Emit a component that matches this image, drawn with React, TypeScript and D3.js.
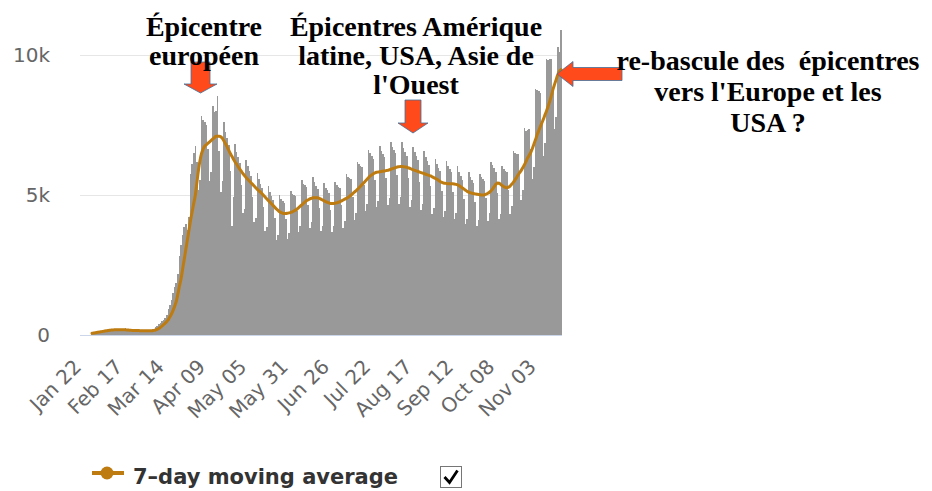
import React from 'react';
import * as d3 from 'd3';

// Daily deaths (bars), Jan 22 -> Nov 12
const dailyDeaths: number[] = [
  50, 60, 75, 85, 95, 110, 125,
  125, 145, 150, 165, 160, 180, 175,
  190, 185, 200, 180, 195, 185, 200,
  250, 150, 170, 160, 175, 150, 155,
  150, 170, 140, 160, 130, 150, 145,
  145, 150, 160, 200, 230, 270, 320,
  390, 440, 495, 535, 600, 700, 925,
  1080, 1260, 1495, 1700, 1840, 2185, 2835,
  3200, 3570, 3860, 3980, 3740, 4230, 5750,
  6100, 6490, 6750, 6175, 5190, 5535, 7820,
  7670, 7590, 7505, 6650, 5500, 5820, 8165,
  7950, 8000, 8550, 6580, 5100, 5510, 7590,
  7260, 7020, 6780, 5870, 3900, 4920, 6810,
  6540, 6340, 6145, 5340, 4340, 4510, 6255,
  6025, 5850, 5680, 4940, 4020, 4180, 5800,
  5580, 5410, 5250, 4560, 3700, 3840, 5310,
  5110, 4950, 4810, 4180, 3410, 3570, 4990,
  4860, 4785, 4710, 4160, 3430, 3630, 5130,
  5040, 5005, 4970, 4420, 3670, 3900, 5520,
  5410, 5350, 5270, 4655, 3820, 4020, 5635,
  5465, 5335, 5205, 4550, 3710, 3890, 5430,
  5265, 5170, 5075, 4475, 3680, 3885, 5475,
  5365, 5300, 5240, 4635, 3830, 4060, 5750,
  5655, 5610, 5560, 4940, 4100, 4360, 6190,
  6090, 6050, 6005, 5340, 4430, 4690, 6625,
  6485, 6390, 6285, 5540, 4555, 4800, 6740,
  6575, 6470, 6370, 5625, 4635, 4885, 6880,
  6720, 6610, 6500, 5720, 4690, 4920, 6890,
  6685, 6545, 6395, 5605, 4585, 4805, 6715,
  6520, 6380, 6240, 5470, 4475, 4690, 6555,
  6360, 6215, 6070, 5310, 4335, 4525, 6300,
  6105, 5975, 5855, 5140, 4210, 4430, 6210,
  6050, 5930, 5810, 5090, 4160, 4340, 6040,
  5835, 5690, 5540, 4845, 3960, 4150, 5810,
  5645, 5535, 5420, 4760, 3900, 4100, 5760,
  5635, 5565, 5510, 4890, 4070, 4345, 6185,
  6080, 5960, 5810, 5075, 4135, 4320, 6050,
  5915, 5850, 5810, 5180, 4315, 4610, 6580,
  6495, 6470, 6460, 5775, 4835, 5180, 7385,
  7300, 7325, 7365, 6630, 5575, 5985, 8800,
  8750, 8700, 8650, 7620, 6380, 6855, 9845,
  9835, 9855, 9860, 8835, 7350, 7775, 10300,
  10100, 10900,
];

// 7-day moving average (line)
const movingAverage: number[] = [
  60, 70, 80, 90, 100, 110, 120, 130, 140, 150,
  160, 170, 175, 180, 185, 190, 190, 190, 190, 190,
  190, 185, 180, 175, 170, 165, 160, 160, 160, 160,
  155, 150, 150, 150, 150, 150, 150, 150, 155, 165,
  180, 200, 230, 270, 320, 370, 420, 480, 550, 650,
  750, 880, 1030, 1200, 1450, 1750, 2000, 2350, 2700, 3050,
  3400, 3750, 4100, 4400, 4700, 5000, 5450, 5900, 6250, 6500,
  6650, 6750, 6800, 6850, 6900, 6950, 7000, 7050, 7100, 7100,
  7100, 7080, 7020, 6930, 6830, 6720, 6600, 6480, 6380, 6280,
  6180, 6100, 6000, 5920, 5840, 5760, 5690, 5620, 5560, 5500,
  5440, 5380, 5320, 5260, 5200, 5150, 5100, 5040, 4980, 4920,
  4860, 4800, 4740, 4680, 4620, 4560, 4500, 4450, 4400, 4370,
  4350, 4340, 4340, 4350, 4360, 4380, 4400, 4430, 4460, 4500,
  4550, 4600, 4650, 4700, 4750, 4800, 4830, 4860, 4880, 4900,
  4900, 4900, 4900, 4880, 4850, 4820, 4790, 4760, 4740, 4720,
  4700, 4700, 4700, 4710, 4720, 4740, 4760, 4790, 4820, 4850,
  4880, 4910, 4950, 5000, 5050, 5100, 5150, 5200, 5260, 5320,
  5380, 5440, 5500, 5560, 5620, 5680, 5720, 5760, 5790, 5810,
  5820, 5830, 5840, 5850, 5860, 5870, 5880, 5900, 5920, 5940,
  5960, 5980, 6000, 6010, 6020, 6020, 6010, 6000, 5990, 5970,
  5950, 5920, 5900, 5880, 5860, 5840, 5820, 5800, 5780, 5760,
  5740, 5720, 5700, 5680, 5650, 5620, 5590, 5560, 5520, 5480,
  5450, 5430, 5420, 5410, 5400, 5400, 5400, 5400, 5390, 5380,
  5360, 5330, 5290, 5250, 5210, 5170, 5130, 5100, 5080, 5060,
  5050, 5040, 5030, 5020, 5010, 5000, 5000, 5010, 5030, 5060,
  5100, 5150, 5220, 5300, 5380, 5430, 5420, 5380, 5340, 5300,
  5270, 5260, 5280, 5320, 5380, 5450,
  5530, 5620, 5720, 5800, 5880, 5980, 6080, 6200, 6320, 6420,
  6520, 6660, 6820, 6980, 7150, 7300, 7440, 7580, 7720, 7870,
  8020, 8180, 8360, 8560, 8780, 8960, 9130, 9300, 9420, 9480,
];

const tickIndex = [0, 26, 52, 78, 104, 130, 156, 182, 208, 234, 260, 286];
const tickLabels = ['Jan 22', 'Feb 17', 'Mar 14', 'Apr 09', 'May 05', 'May 31', 'Jun 26', 'Jul 22', 'Aug 17', 'Sep 12', 'Oct 08', 'Nov 03'];
const yTicks = [0, 5000, 10000];
const yTickLabels = ['0', '5k', '10k'];
const legendLabel = '7\u2013day moving average';

const annotation1 = ['\u00c9picentre', 'europ\u00e9en'];
const annotation2 = ['\u00c9picentres Am\u00e9rique', 'latine, USA, Asie de', "l'Ouest"];
const annotation3 = ['re-bascule des  \u00e9picentres', "vers l'Europe et les", 'USA ?'];

const W = 932;
const H = 491;
const plotLeft = 80;
const plotRight = 562;
const BAR = '#999999';
const LINE = '#be7b10';
const ARROW = '#ff4a1c';
const ARROW_STROKE = '#41719c';

export default function App() {
  const n = dailyDeaths.length;
  const x = d3.scaleLinear().domain([0, n - 1]).range([92, 561]);
  const y = d3.scaleLinear().domain([0, 10000]).range([335, 55]);
  const step = x(1) - x(0);

  const line = d3
    .line<number>()
    .x((_, i) => x(i))
    .y((d) => y(d))
    .curve(d3.curveMonotoneX);

  const axisFont = 'DejaVu Sans, sans-serif';
  const serif = 'Liberation Serif, Times New Roman, serif';

  const downArrow = (cx: number, top: number, shaftW: number, headW: number, headY: number, tipY: number) => {
    const pts = [
      [cx - shaftW / 2, top],
      [cx + shaftW / 2, top],
      [cx + shaftW / 2, headY],
      [cx + headW / 2, headY],
      [cx, tipY],
      [cx - headW / 2, headY],
      [cx - shaftW / 2, headY],
    ];
    return pts.map((p) => p.join(',')).join(' ');
  };
  const leftArrow = (tipX: number, cy: number, headX: number, headH: number, shaftH: number, endX: number) => {
    const pts = [
      [tipX, cy],
      [headX, cy - headH / 2],
      [headX, cy - shaftH / 2],
      [endX, cy - shaftH / 2],
      [endX, cy + shaftH / 2],
      [headX, cy + shaftH / 2],
      [headX, cy + headH / 2],
    ];
    return pts.map((p) => p.join(',')).join(' ');
  };

  return (
    <svg
      width={W}
      height={H}
      style={{ position: 'absolute', left: 0, top: 0, background: '#fff' }}
    >
      {/* grid */}
      {yTicks.map((t, i) =>
        t === 0 ? null : (
          <line key={'g' + i} x1={plotLeft} x2={plotRight} y1={Math.round(y(t)) + 0.5} y2={Math.round(y(t)) + 0.5} stroke="#e6e6e6" strokeWidth={1} />
        )
      )}
      {/* y labels */}
      {yTicks.map((t, i) => (
        <text key={'yl' + i} x={50} y={y(t) + 7} textAnchor="end" fontFamily={axisFont} fontSize={20} fill="#666">
          {yTickLabels[i]}
        </text>
      ))}
      {/* bars */}
      <g shapeRendering="crispEdges">
        {dailyDeaths.map((v, i) => {
          const x0 = Math.round(x(i) - step / 2);
          const x1 = Math.round(x(i) + step / 2);
          return <rect key={'b' + i} x={x0} width={Math.max(1, x1 - x0)} y={y(v)} height={y(0) - y(v)} fill={BAR} />;
        })}
      </g>
      {/* x axis line */}
      <line x1={plotLeft} x2={plotRight} y1={335.5} y2={335.5} stroke="#ccd6eb" strokeWidth={1} />
      {/* moving average */}
      <path d={line(movingAverage) || ''} fill="none" stroke={LINE} strokeWidth={3} strokeLinejoin="round" strokeLinecap="round" />
      {/* x labels */}
      {tickIndex.map((ti, i) => (
        <text
          key={'xl' + i}
          transform={`translate(${x(ti) - 9.5},368) rotate(-45)`}
          textAnchor="end"
          fontFamily={axisFont}
          fontSize={20}
          fill="#666"
        >
          {tickLabels[i]}
        </text>
      ))}
      {/* legend */}
      <line x1={92} x2={124} y1={473} y2={473} stroke={LINE} strokeWidth={4} />
      <circle cx={107} cy={473} r={6.5} fill={LINE} />
      <text x={133} y={484} fontFamily="DejaVu Sans, sans-serif" fontWeight="bold" fontSize={21} fill="#333">
        {legendLabel}
      </text>
      <rect x={440.5} y={466.5} width={21} height={21} fill="#fff" stroke="#767676" strokeWidth={1} />
      <path d="M444.5,477 L449.5,482.5 L457.5,470.5" fill="none" stroke="#000" strokeWidth={2.8} />
      {/* arrows */}
      <polygon points={downArrow(200.5, 62, 19, 33, 84, 93)} fill={ARROW} stroke={ARROW_STROKE} strokeWidth={0.8} />
      <polygon points={downArrow(413, 100, 16, 30, 123, 133)} fill={ARROW} stroke={ARROW_STROKE} strokeWidth={0.8} />
      <polygon points={leftArrow(557, 74, 573, 25, 13, 622)} fill={ARROW} stroke={ARROW_STROKE} strokeWidth={0.8} />
      {/* annotations */}
      <text fontFamily={serif} fontWeight="bold" fontSize={28} fill="#000" textAnchor="middle" style={{ whiteSpace: 'pre' }}>
        {annotation1.map((s, i) => (
          <tspan key={i} x={204} y={36 + i * 29}>{s}</tspan>
        ))}
      </text>
      <text fontFamily={serif} fontWeight="bold" fontSize={28} fill="#000" textAnchor="middle" style={{ whiteSpace: 'pre' }}>
        {annotation2.map((s, i) => (
          <tspan key={i} x={416} y={36 + i * 29}>{s}</tspan>
        ))}
      </text>
      <text fontFamily={serif} fontWeight="bold" fontSize={28} fill="#000" textAnchor="middle" style={{ whiteSpace: 'pre' }}>
        {annotation3.map((s, i) => (
          <tspan key={i} x={768} y={70 + i * 31}>{s}</tspan>
        ))}
      </text>
    </svg>
  );
}
